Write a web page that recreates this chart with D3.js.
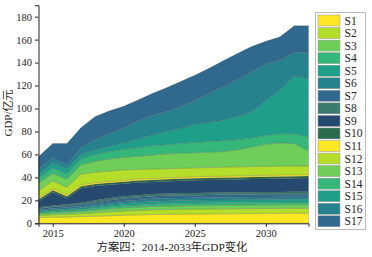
<!DOCTYPE html>
<html><head><meta charset="utf-8">
<script src="https://cdn.jsdelivr.net/npm/d3@7"></script>
<style>body{margin:0;background:#fff}svg{display:block}</style>
</head><body><div id="c"></div>
<script>
const years = [2014,2015,2016,2017,2018,2019,2020,2021,2022,2023,2024,2025,2026,2027,2028,2029,2030,2031,2032,2033];
const seriesNames = ["S1","S2","S3","S4","S5","S6","S7","S8","S9","S10","S11","S12","S13","S14","S15","S16","S17"];
const S1 = [5.0,5.3,5.5,5.8,6.2,6.6,7.0,7.3,7.6,7.8,8.0,8.1,8.2,8.3,8.4,8.5,8.6,8.7,8.8,8.8];
const S2 = [2.0,2.2,2.4,2.7,3.0,3.4,3.7,3.9,4.1,4.2,4.2,4.3,4.3,4.3,4.3,4.3,4.3,4.3,4.3,4.3];
const S3 = [1.5,1.7,1.8,2.0,2.3,2.6,2.8,2.9,3.0,3.1,3.1,3.1,3.1,3.2,3.2,3.2,3.2,3.2,3.2,3.2];
const S4 = [1.2,1.3,1.4,1.5,1.7,1.9,2.0,2.1,2.2,2.2,2.2,2.2,2.3,2.3,2.3,2.3,2.3,2.3,2.3,2.3];
const S5 = [1.1,1.2,1.3,1.5,1.7,1.9,2.0,2.1,2.2,2.2,2.3,2.3,2.3,2.3,2.3,2.3,2.3,2.3,2.3,2.3];
const S6 = [1.0,1.2,1.3,1.4,1.6,1.8,2.0,2.1,2.2,2.3,2.3,2.3,2.3,2.3,2.3,2.3,2.3,2.3,2.3,2.3];
const S7 = [1.1,1.3,1.4,1.5,1.7,1.9,2.0,2.1,2.2,2.2,2.2,2.2,2.2,2.2,2.2,2.2,2.2,2.2,2.2,2.2];
const S8 = [1.1,1.3,1.4,1.6,1.8,1.9,2.0,2.0,2.0,2.0,2.0,2.0,2.0,2.0,2.0,2.0,2.0,2.0,2.0,2.1];
const S9 = [5.0,11.5,5.3,12.5,12.5,11.5,11.0,11.0,10.5,10.5,10.7,11.0,11.0,11.1,11.2,11.4,11.5,11.7,11.8,11.9];
const S10 = [1.8,1.8,1.8,1.8,1.8,1.8,1.8,1.8,1.8,1.8,1.8,1.8,1.8,1.8,1.8,1.8,1.8,1.8,1.8,1.8];
const S11 = [1.3,1.3,1.3,1.3,1.3,1.3,1.3,1.3,1.3,1.3,1.3,1.3,1.3,1.3,1.3,1.3,1.3,1.3,1.3,1.3];
const S12 = [6.4,6.9,6.6,9.4,8.9,8.9,8.9,8.4,8.2,8.0,7.9,7.7,7.8,7.8,7.9,7.8,7.8,7.7,7.7,7.5];
const S13 = [6.5,6.5,7.0,8.0,9.5,10.5,11.0,11.5,12.2,12.9,13.0,13.2,13.4,13.6,14.8,17.1,19.4,20.2,19.5,13.0];
const S14 = [4.5,4.5,4.5,5.0,6.0,6.5,7.0,7.5,8.0,8.0,8.5,9.0,9.3,9.5,9.0,8.0,7.5,8.0,8.5,12.0];
const S15 = [3.5,4.5,4.5,4.0,4.0,4.5,5.5,7.5,9.5,11.5,13.2,15.5,16.7,17.5,20.0,22.5,30.5,38.0,50.0,51.0];
const S16 = [4.5,4.5,4.0,6.0,9.0,11.0,13.0,15.5,17.0,17.5,18.8,21.0,25.0,29.5,32.0,35.0,32.0,26.0,21.0,23.0];
const S17 = [10.5,12.5,18.0,17.5,20.0,20.0,19.0,18.5,19.0,20.5,22.0,22.0,22.0,22.5,23.0,22.0,19.5,20.5,23.0,23.0];
const xTicks = [2015,2020,2025,2030];
const yTicks = [0,20,40,60,80,100,120,140,160,180];
const palette = ["#fde725","#b5de2b","#6ece58","#35b779","#1f9e89","#26828e","#31688e","#3b7a6e","#26496f","#2b6a4c"];
const title = "方案四：2014-2033年GDP变化";
const yLabel = "GDP/亿元";

const allSeries = [S1,S2,S3,S4,S5,S6,S7,S8,S9,S10,S11,S12,S13,S14,S15,S16,S17];
const table = years.map((y,i)=>{const o={year:y}; seriesNames.forEach((n,k)=>o[n]=allSeries[k][i]); return o;});

const W=372,H=257;
const svg=d3.select("#c").append("svg").attr("width",W).attr("height",H);
const font='"Liberation Serif","Noto Sans CJK SC",serif';
const x=d3.scaleLinear().domain([2014,2033]).range([38.5,308.5]);
const y=d3.scaleLinear().domain([0,190]).range([223.3,5.2]);
const stack=d3.stack().keys(seriesNames)(table);
const color=(k)=>palette[k%10];
const area=d3.area().x(d=>x(d.data.year)).y0(d=>y(d[0])).y1(d=>y(d[1]));
svg.append("g").selectAll("path").data(stack).join("path")
  .attr("d",area).attr("fill",(d,i)=>color(i))
  .attr("stroke","#4a4a4a").attr("stroke-opacity",0.35).attr("stroke-width",0.6);

const gx=svg.append("g").attr("transform","translate(0,223.3)")
  .call(d3.axisBottom(x).tickValues(xTicks).tickFormat(d3.format("d")).tickSize(3.5).tickPadding(3));
const gy=svg.append("g").attr("transform","translate(38.5,0)")
  .call(d3.axisLeft(y).tickValues(yTicks).tickSize(3.5).tickPadding(3));
[gx,gy].forEach(g=>{g.select(".domain").attr("stroke","#222").attr("stroke-width",1);
  g.selectAll(".tick line").attr("stroke","#222");
  g.selectAll("text").attr("font-family",font).attr("font-size",10.5).attr("fill","#222");});

svg.append("text").attr("x",172).attr("y",251).attr("text-anchor","middle")
  .attr("font-family",font).attr("font-size",11.3).attr("fill","#222").text(title);
svg.append("text").attr("transform","translate(12,113) rotate(-90)").attr("text-anchor","middle")
  .attr("font-family",font).attr("font-size",11).attr("fill","#222").text(yLabel);

const lg=svg.append("g");
lg.append("rect").attr("x",315.5).attr("y",12.5).attr("width",50).attr("height",217)
  .attr("fill","#fff").attr("stroke","#bbb").attr("stroke-width",1);
seriesNames.forEach((n,i)=>{
  const yy=15+i*12.55;
  lg.append("rect").attr("x",318).attr("y",yy).attr("width",22).attr("height",11)
    .attr("fill",color(i)).attr("stroke","#999").attr("stroke-width",0.5);
  lg.append("text").attr("x",344.5).attr("y",yy+9.5).attr("font-family",font)
    .attr("font-size",11.5).attr("fill","#222").text(n);
});
</script></body></html>
